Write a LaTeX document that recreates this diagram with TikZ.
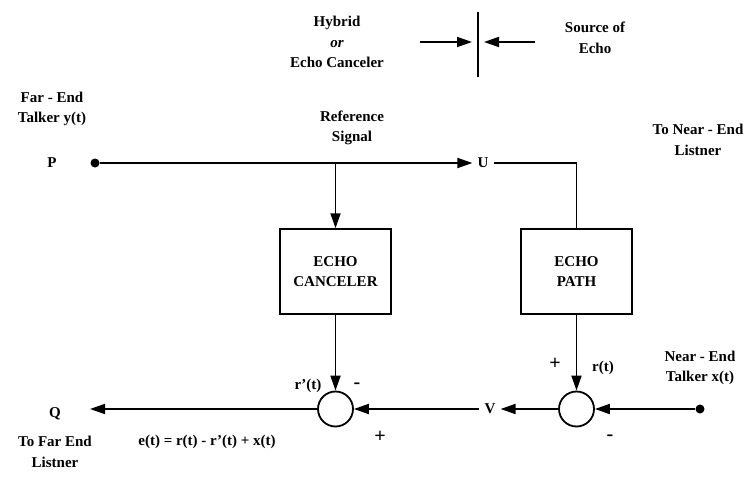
\documentclass[tikz,border=0pt]{standalone}
\usepackage{fontspec}
\setmainfont{Liberation Serif}
\usetikzlibrary{arrows.meta}
\begin{document}
\begin{tikzpicture}[x=1pt,y=-1pt,
  lbl/.style={font=\bfseries\fontsize{15}{20.5}\selectfont, inner sep=0pt, align=center},
  sgn/.style={font=\bfseries\fontsize{20}{20}\selectfont, inner sep=0pt},
  blk/.style={draw, line width=1.5pt, minimum width=111pt, minimum height=85pt, inner sep=0pt,
    font=\bfseries\fontsize{15}{20}\selectfont, align=center},
  sumc/.style={draw, circle, line width=1.8pt, minimum size=35pt, inner sep=0pt},
  dotn/.style={circle, fill, minimum size=9pt, inner sep=0pt},
  ar/.style={line width=1.8pt, -{Triangle[length=15pt,width=10pt]}},
  ln/.style={line width=1.8pt}]
\useasboundingbox (0,0) rectangle (746,484);

% top legend
\node[lbl] (hyb) at (337,42) {Hybrid\\\textit{or}\\Echo Canceler};
\coordinate (bartop) at (478,12);
\coordinate (barbot) at (478,77);
\draw[ln] (bartop) -- (barbot);
\coordinate (arL) at (420,42);
\coordinate (arLt) at (472,42);
\coordinate (arR) at (535,42);
\coordinate (arRt) at (484,42);
\draw[ar] (arL) -- (arLt);
\draw[ar] (arR) -- (arRt);
\node[lbl] (src) at (595,38) {Source of\\Echo};

% top path
\node[lbl] (far) at (52,109) {Far - End\\Talker y(t)};
\node[lbl] (P) at (52,163) {P};
\node[dotn] (pd) at (95,163) {};
\node[lbl, inner xsep=5pt] (U) at (483,163) {U};
\node[lbl] (ref) at (352,128) {Reference\\Signal};
\node[lbl] (nl) at (698,140) {To Near - End\\Listner};

% blocks
\node[blk] (ec) at (335.5,271.5) {ECHO\\CANCELER};
\node[blk] (ep) at (576.5,271.5) {ECHO\\PATH};
\coordinate (j1) at (335.5,163);
\draw[ar] (pd) -- (U.west);
\draw[ar] (j1) -- (ec.north);
\draw[ln] (U.east) -| (ep.north);

% summing junctions
\node[sumc] (s1) at (335.5,409) {};
\node[sumc] (s2) at (576.5,409) {};
\draw[ar] (ec.south) -- (s1.north);
\draw[ar] (ep.south) -- (s2.north);

\node[dotn] (nd) at (700,409) {};
\node[lbl] (near) at (700,368) {Near - End\\Talker x(t)};
\draw[ar] (nd) -- (s2.east);

\node[lbl, inner xsep=5pt] (V) at (490,409) {V};
\draw[ar] (s2.west) -- (V.east);
\draw[ar] (V.west) -- (s1.east);

\node[lbl] (Q) at (55,414) {Q};
\coordinate (qt) at (90,409);
\draw[ar] (s1.west) -- (qt);
\node[lbl] (tfe) at (55,452) {To Far End\\Listner};
\node[lbl] (eq) at (207,442) {e(t) = r(t) - r'(t) + x(t)};

% signs and signal labels
\node[lbl] (rp) at (308,386) {r'(t)};
\node[sgn] (m1) at (357,386) {-};
\node[sgn] (p1) at (380,437) {+};
\node[sgn] (p2) at (555,364) {+};
\node[lbl] (rt) at (603,368) {r(t)};
\node[sgn] (m2) at (610,438) {-};
\end{tikzpicture}
\end{document}
